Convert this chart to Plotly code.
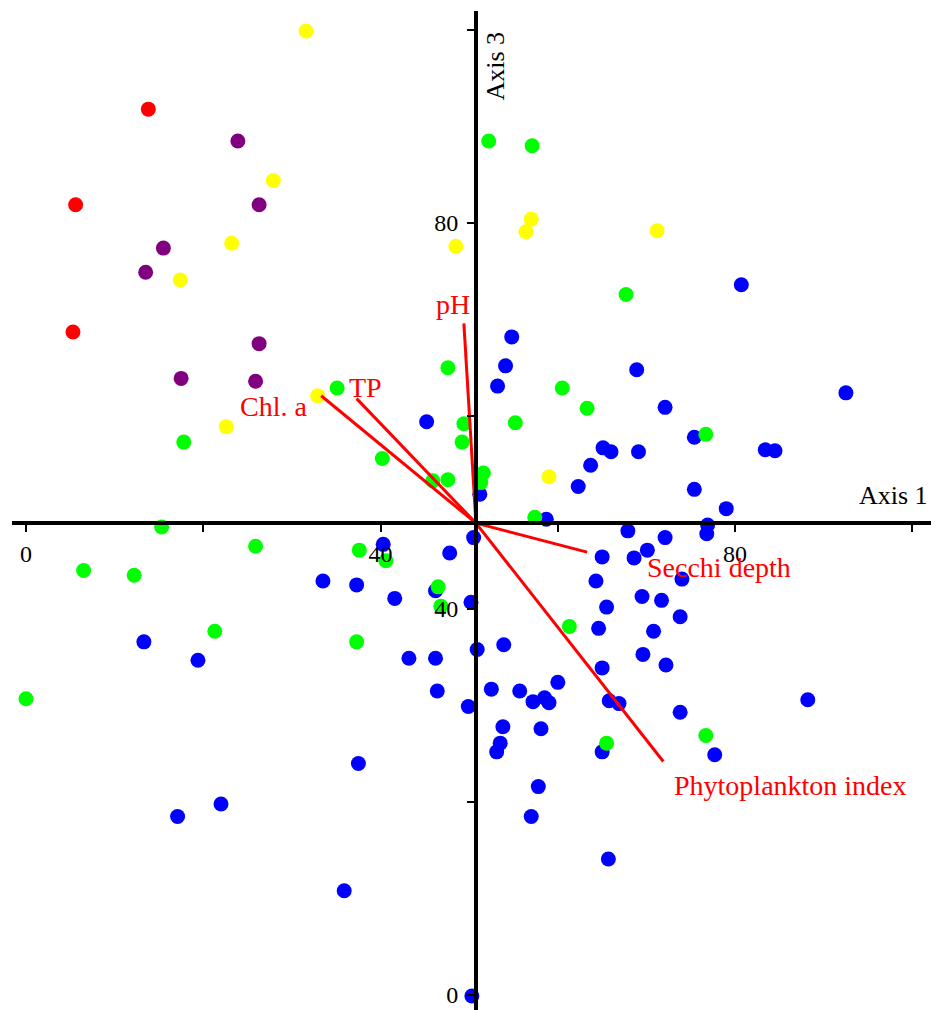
import plotly.graph_objects as go

# ---------------- data (axis units) ----------------
red_x = [13.8, 5.6, 5.3]
red_y = [91.8, 81.9, 68.7]

purple_x = [23.9, 26.3, 15.5, 13.5, 26.3, 17.5, 25.9]
purple_y = [88.5, 81.9, 77.4, 74.9, 67.5, 63.9, 63.6]

yellow_x = [31.6, 27.9, 23.2, 17.4, 48.5, 32.9, 22.6, 57.0, 56.4, 71.2, 59.0]
yellow_y = [99.9, 84.4, 77.9, 74.1, 77.6, 62.1, 58.9, 80.4, 79.1, 79.2, 53.7]

blue_x = [45.2, 80.7, 54.8, 54.1, 53.2, 68.9, 92.5, 72.1, 75.4, 65.1,
          66.0, 69.1, 83.4, 84.5, 63.7, 62.3, 75.4, 79.0, 51.2, 58.7,
          76.9, 76.8, 50.5, 67.9, 72.1, 70.1, 65.0, 68.6, 74.0, 64.3,
          69.5, 71.7, 65.5, 73.8, 64.6, 70.8, 50.2, 53.9, 50.9, 69.6,
          72.2, 65.0, 60.0, 52.5, 55.7, 57.2, 58.5, 59.0, 49.9, 65.8,
          66.9, 73.8, 88.2, 53.8, 58.1, 53.5, 53.1, 65.0, 77.7, 57.8,
          57.0, 65.7, 50.3, 40.3, 47.8, 33.5, 37.3, 41.6, 46.2, 13.3,
          19.4, 43.2, 46.2, 46.4, 37.5, 17.1, 22.0, 35.9]
blue_y = [59.4, 73.6, 68.2, 65.2, 63.1, 64.8, 62.4, 60.9, 57.8, 56.7,
          56.3, 56.3, 56.5, 56.4, 54.9, 52.7, 52.4, 50.4, 51.9, 49.3,
          48.7, 47.8, 47.4, 48.1, 47.4, 46.1, 45.4, 45.3, 43.1, 42.9,
          41.3, 40.9, 40.2, 39.2, 38.0, 37.7, 40.7, 36.3, 35.8, 35.3,
          34.2, 33.9, 32.4, 31.7, 31.5, 30.4, 30.8, 30.3, 29.9, 30.5,
          30.2, 29.3, 30.6, 27.8, 27.6, 26.1, 25.2, 25.2, 24.9, 21.6,
          18.5, 14.1, -0.1, 46.7, 45.8, 42.9, 42.5, 41.1, 41.9, 36.6,
          34.7, 34.9, 34.9, 31.5, 24.0, 18.5, 19.8, 10.8]

green_x = [35.1, 47.6, 49.4, 49.2, 17.8, 40.2, 45.9, 47.6, 52.2, 57.1,
           67.7, 60.5, 63.3, 55.2, 76.7, 51.6, 51.3, 57.4, 15.3, 25.9,
           6.5, 12.2, 37.6, 40.6, 46.5, 46.8, 21.3, 37.3, 0.0, 61.3,
           65.5, 76.7]
green_y = [62.9, 65.0, 59.2, 57.3, 57.3, 55.6, 53.3, 53.4, 88.5, 88.0,
           72.6, 62.9, 60.8, 59.3, 58.1, 54.1, 53.1, 49.5, 48.5, 46.5,
           44.0, 43.5, 46.1, 45.0, 42.3, 40.3, 37.7, 36.6, 30.7, 38.2,
           26.1, 26.9]

# biplot vectors (start at axes crossing)
vec_names = ["pH", "TP", "Chl. a", "Secchi depth", "Phytoplankton index"]
vec_x = [49.4, 37.3, 33.3, 63.3, 71.9]
vec_y = [69.6, 61.8, 62.1, 45.9, 24.2]
origin_x = 50.76
origin_y = 48.9

tick_vals = [0, 20, 40, 60, 80, 100]
tick_text = ["0", "", "40", "", "80", ""]

# ---------------- layout helpers ----------------
X_RANGE = [-1.58, 102.1]
Y_RANGE = [-1.55, 101.97]
FONT = "Liberation Serif"

fig = go.Figure()

# vectors
lx, ly = [], []
for ex, ey in zip(vec_x, vec_y):
    lx += [origin_x, ex, None]
    ly += [origin_y, ey, None]

series = [
    (blue_x, blue_y, "#0000FF"),
    (green_x, green_y, "#00FF00"),
    (yellow_x, yellow_y, "#FFFF00"),
    (purple_x, purple_y, "#800080"),
    (red_x, red_y, "#FF0000"),
]
for xs, ys, col in series:
    fig.add_trace(go.Scatter(x=xs, y=ys, mode="markers",
                             marker=dict(size=15, color=col, line=dict(width=0)),
                             showlegend=False, cliponaxis=False))

fig.add_trace(go.Scatter(x=lx, y=ly, mode="lines",
                         line=dict(color="#FF0000", width=3),
                         showlegend=False, hoverinfo="skip"))

# vector labels (anchor positions in axis units)
label_pos = {
    "pH": (48.17, 71.6, "center"),
    "TP": (38.35, 63.0, "center"),
    "Chl. a": (31.9, 61.0, "right"),
    "Secchi depth": (69.8, 44.35, "left"),
    "Phytoplankton index": (72.9, 21.76, "left"),
}
for name in vec_names:
    px, py, anc = label_pos[name]
    fig.add_annotation(x=px, y=py, text=name, showarrow=False,
                       xanchor=anc, yanchor="middle",
                       font=dict(family=FONT, size=28, color="#FF0000"))

# axis titles
fig.add_annotation(x=102.0, y=51.8, text="Axis 1", showarrow=False,
                   xanchor="right", yanchor="middle",
                   font=dict(family=FONT, size=26, color="black"))
fig.add_annotation(x=53.0, y=96.3, text="Axis 3", showarrow=False,
                   textangle=-90, xanchor="center", yanchor="middle",
                   font=dict(family=FONT, size=26, color="black"))

xpos = (origin_y - Y_RANGE[0]) / (Y_RANGE[1] - Y_RANGE[0])
ypos = (origin_x - X_RANGE[0]) / (X_RANGE[1] - X_RANGE[0])

axis_common = dict(showgrid=False, zeroline=False, showline=True,
                   linecolor="black", linewidth=4, ticks="outside",
                   ticklen=7, tickwidth=2, tickcolor="black",
                   tickvals=tick_vals, ticktext=tick_text,
                   tickfont=dict(family=FONT, size=24, color="black"),
                   anchor="free", fixedrange=True)

fig.update_layout(
    width=931, height=1010,
    margin=dict(l=12, r=0, t=11, b=0),
    paper_bgcolor="white", plot_bgcolor="white",
    xaxis=dict(range=X_RANGE, position=xpos, ticklabelstandoff=1, **axis_common),
    yaxis=dict(range=Y_RANGE, position=ypos, ticklabelstandoff=4, **axis_common),
    showlegend=False,
)

fig.write_html("out.html")
